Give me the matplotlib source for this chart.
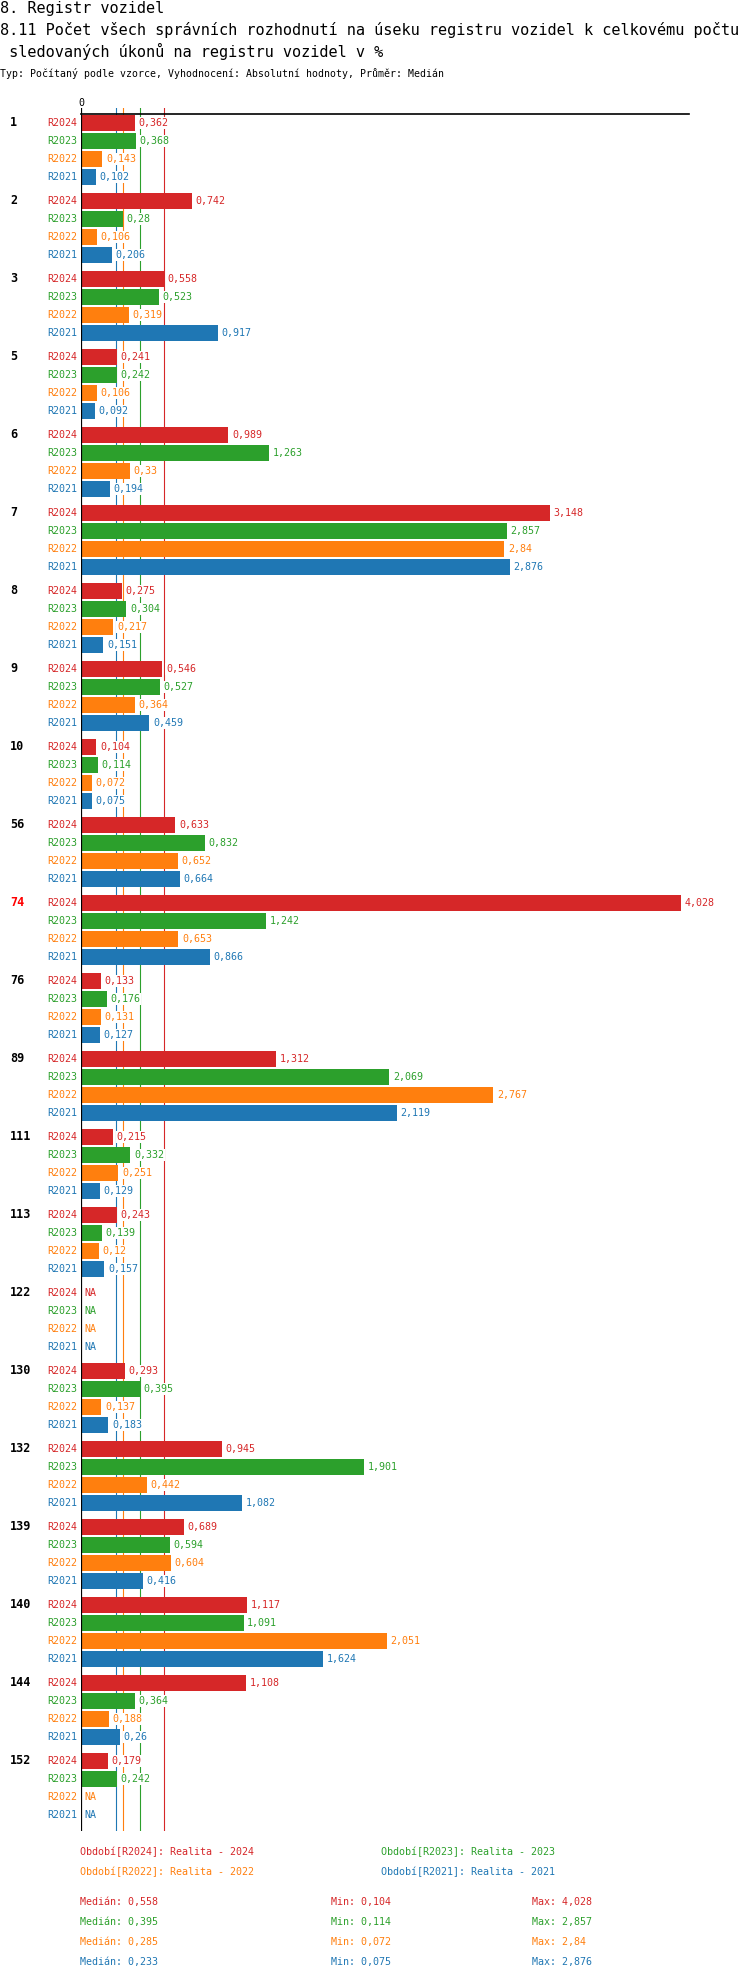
import numpy as np
import matplotlib.pyplot as plt
from matplotlib import transforms

plt.rcParams['font.family'] = ['DejaVu Sans Mono', 'DejaVu Sans']

# data
categories = ['1', '2', '3', '5', '6', '7', '8', '9', '10', '56', '74', '76', '89',
              '111', '113', '122', '130', '132', '139', '140', '144', '152']
highlight = '74'
series = ['R2024', 'R2023', 'R2022', 'R2021']
legend_names = ['Realita - 2024', 'Realita - 2023', 'Realita - 2022', 'Realita - 2021']
colors = ['#d62728', '#2ca02c', '#ff7f0e', '#1f77b4']
nan = np.nan
r2024 = [0.362, 0.742, 0.558, 0.241, 0.989, 3.148, 0.275, 0.546, 0.104, 0.633, 4.028,
         0.133, 1.312, 0.215, 0.243, nan, 0.293, 0.945, 0.689, 1.117, 1.108, 0.179]
r2023 = [0.368, 0.28, 0.523, 0.242, 1.263, 2.857, 0.304, 0.527, 0.114, 0.832, 1.242,
         0.176, 2.069, 0.332, 0.139, nan, 0.395, 1.901, 0.594, 1.091, 0.364, 0.242]
r2022 = [0.143, 0.106, 0.319, 0.106, 0.33, 2.84, 0.217, 0.364, 0.072, 0.652, 0.653,
         0.131, 2.767, 0.251, 0.12, nan, 0.137, 0.442, 0.604, 2.051, 0.188, nan]
r2021 = [0.102, 0.206, 0.917, 0.092, 0.194, 2.876, 0.151, 0.459, 0.075, 0.664, 0.866,
         0.127, 2.119, 0.129, 0.157, nan, 0.183, 1.082, 0.416, 1.624, 0.26, nan]
values = [r2024, r2023, r2022, r2021]

title1 = '8. Registr vozidel'
title2 = '8.11 Počet všech správních rozhodnutí na úseku registru vozidel k celkovému počtu'
title3 = ' sledovaných úkonů na registru vozidel v %'
subtitle = 'Typ: Počítaný podle vzorce, Vyhodnocení: Absolutní hodnoty, Průměr: Medián'


def fmt(v):
    if np.isnan(v):
        return 'NA'
    s = f'{v:.3f}'.rstrip('0').rstrip('.')
    return s.replace('.', ',')


W, H = 750, 1980


def fx(px):
    return px / W


def fy(px):
    return 1 - px / H


fig = plt.figure(figsize=(W / 100, H / 100), dpi=100)

# titles
fig.text(0, fy(13), title1, fontsize=10.95, va='baseline', ha='left')
fig.text(0, fy(35), title2, fontsize=10.95, va='baseline', ha='left')
fig.text(0, fy(57), title3, fontsize=10.95, va='baseline', ha='left')
fig.text(0, fy(77), subtitle, fontsize=7.1, va='baseline', ha='left')

# main axes: one unit on y = one bar row (18 px)
ax = fig.add_axes([fx(81), fy(1831), fx(689) - fx(81), (1831 - 108) / H])
ax.set_xlim(0, 608 / 149)
ax.set_ylim((1831 - 114) / 18, -6 / 18)
ax.axis('off')

group_step = 78 / 18
bar_h = 16 / 18
lab_tr = transforms.blended_transform_factory(fig.transFigure, ax.transData)

for g, cat in enumerate(categories):
    y0 = 0.5 + g * group_step
    ax.text(fx(10), y0, cat, transform=lab_tr, fontsize=8.5, fontweight='bold',
            va='center', ha='left', color='#ff0000' if cat == highlight else 'black')
    for j, name in enumerate(series):
        y = y0 + j
        v = values[j][g]
        c = colors[j]
        if not np.isnan(v):
            ax.barh(y, v, height=bar_h, color=c, zorder=2)
        ax.annotate(name, xy=(0, y), xytext=(-3, 0), textcoords='offset points',
                    ha='right', va='center', fontsize=7.2, color=c, annotation_clip=False)
        xv = 0 if np.isnan(v) else v
        ax.annotate(fmt(v), xy=(xv, y), xytext=(2.6, 0), textcoords='offset points',
                    ha='left', va='center', fontsize=7.2, color=c, zorder=4,
                    bbox=dict(fc='white', ec='none', pad=0.4), annotation_clip=False)

# median lines
medians = [np.nanmedian(v) for v in values]
for med, c in zip(medians, colors):
    ax.axvline(med, color=c, lw=0.8, zorder=1)

ax.axvline(0, color='black', lw=1.6, zorder=5)
ax.plot([0, 608 / 149], [0, 0], color='black', lw=1.2, zorder=5, clip_on=False)
ax.text(0, -11 / 18, '0', ha='center', va='center', fontsize=7.2, clip_on=False)

# legend
leg_x = [80, 381, 80, 381]
leg_y = [1852, 1852, 1872, 1872]
for j, name in enumerate(series):
    fig.text(fx(leg_x[j]), fy(leg_y[j]), f'Období[{name}]: {legend_names[j]}',
             fontsize=7.2, color=colors[j], va='center', ha='left')

# summary stats
for j in range(len(series)):
    yy = fy(1902 + 20 * j)
    c = colors[j]
    fig.text(fx(80), yy, f'Medián: {fmt(medians[j])}', fontsize=7.2, color=c, va='center')
    fig.text(fx(331), yy, f'Min: {fmt(np.nanmin(values[j]))}', fontsize=7.2, color=c, va='center')
    fig.text(fx(532), yy, f'Max: {fmt(np.nanmax(values[j]))}', fontsize=7.2, color=c, va='center')

fig.savefig('out.png', dpi=100, facecolor='white')
